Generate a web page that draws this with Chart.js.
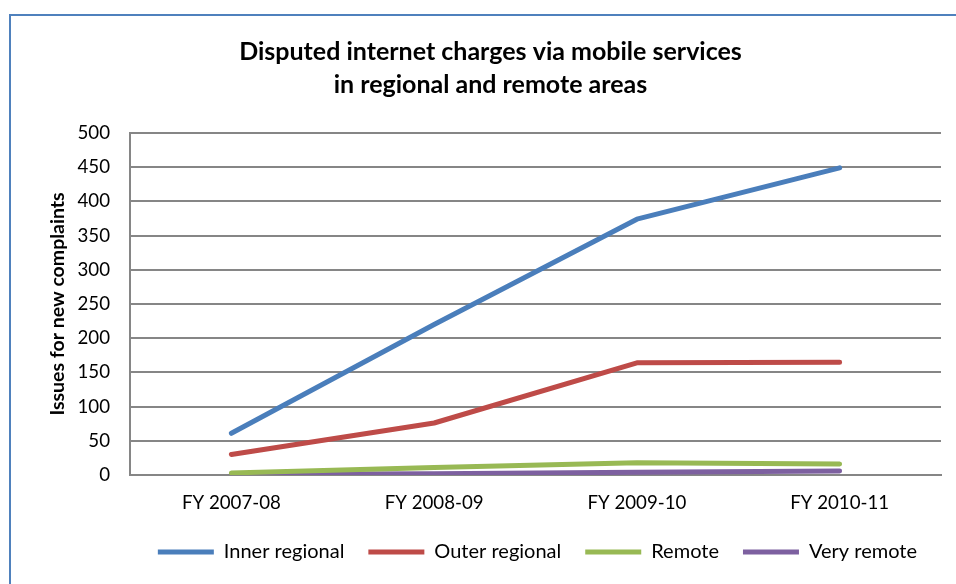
<!DOCTYPE html>
<html>
<head>
<meta charset="utf-8">
<script src="https://cdn.jsdelivr.net/npm/chart.js@4"></script>
<style>
  html, body { margin: 0; padding: 0; background: #fff; overflow: hidden; }
  #wrap { position: relative; width: 956px; height: 584px; }
  #frame { position: absolute; left: 9px; top: 14px; width: 1200px; height: 800px; border: 2px solid #4F81BD; box-sizing: border-box; }
  canvas { position: absolute; left: 0; top: 0; }
</style>
</head>
<body>
<div id="wrap">
  <div id="frame"></div>
  <canvas id="c" width="956" height="584"></canvas>
</div>
<script>
const titleLines = ["Disputed internet charges via mobile services", "in regional and remote areas"];
const yAxisTitle = "Issues for new complaints";
const categories = ["FY 2007-08", "FY 2008-09", "FY 2009-10", "FY 2010-11"];
const seriesNames = ["Inner regional", "Outer regional", "Remote", "Very remote"];
const innerRegional = [61, 220, 374, 449];
const outerRegional = [30, 76, 164, 165];
const remote = [3, 11, 18, 16];
const veryRemote = [1, 2, 4, 6];
const yTicks = [0, 50, 100, 150, 200, 250, 300, 350, 400, 450, 500];
const colors = ["#4A7EBB", "#BE4B48", "#98B954", "#7D60A0"];

const FONT = "Lato, 'Open Sans', sans-serif";
const values = [innerRegional, outerRegional, remote, veryRemote];

const datasets = seriesNames.map((name, i) => ({
  label: name,
  data: values[i],
  borderColor: colors[i],
  backgroundColor: colors[i],
  borderWidth: 5,
  borderCapStyle: 'round',
  borderJoinStyle: 'round',
  pointRadius: 0,
  pointHoverRadius: 0,
  pointStyle: 'line',
  tension: 0,
  fill: false
}));

new Chart(document.getElementById('c'), {
  type: 'line',
  data: { labels: categories, datasets: datasets },
  options: {
    responsive: false,
    animation: false,
    devicePixelRatio: 1,
    layout: { padding: { left: 40, right: 15, top: 0, bottom: 12 } },
    plugins: {
      title: {
        display: true,
        text: titleLines,
        color: '#000',
        font: { family: FONT, size: 25, weight: 'bold', lineHeight: 1.32 },
        padding: { top: 35, bottom: 32 }
      },
      legend: {
        display: true,
        position: 'bottom',
        align: 'end',
        labels: {
          usePointStyle: true,
          pointStyle: 'line',
          pointStyleWidth: 56,
          boxHeight: 20,
          padding: 24,
          color: '#000',
          font: { family: FONT, size: 20 }
        }
      },
      tooltip: { enabled: false }
    },
    scales: {
      x: {
        type: 'category',
        offset: true,
        grid: { display: false, drawTicks: false },
        border: { display: true, color: '#868686', width: 2 },
        ticks: { color: '#000', padding: 17, font: { family: FONT, size: 18.7 }, maxRotation: 0 },
        afterFit: (s) => { s.height = 43; }
      },
      y: {
        type: 'linear',
        min: 0,
        max: 500,
        afterBuildTicks: (s) => { s.ticks = yTicks.map(v => ({ value: v })); },
        grid: { display: true, color: '#868686', lineWidth: 2, drawTicks: false },
        border: { display: true, color: '#868686', width: 2 },
        ticks: { color: '#000', padding: 20, font: { family: FONT, size: 18.7 } },
        title: {
          display: true,
          text: yAxisTitle,
          color: '#000',
          font: { family: FONT, size: 19.5, weight: 'bold', lineHeight: 1.2 },
          padding: { top: 6, bottom: 0 }
        },
        afterFit: (s) => { s.width = 90; }
      }
    }
  }
});
</script>
</body>
</html>
